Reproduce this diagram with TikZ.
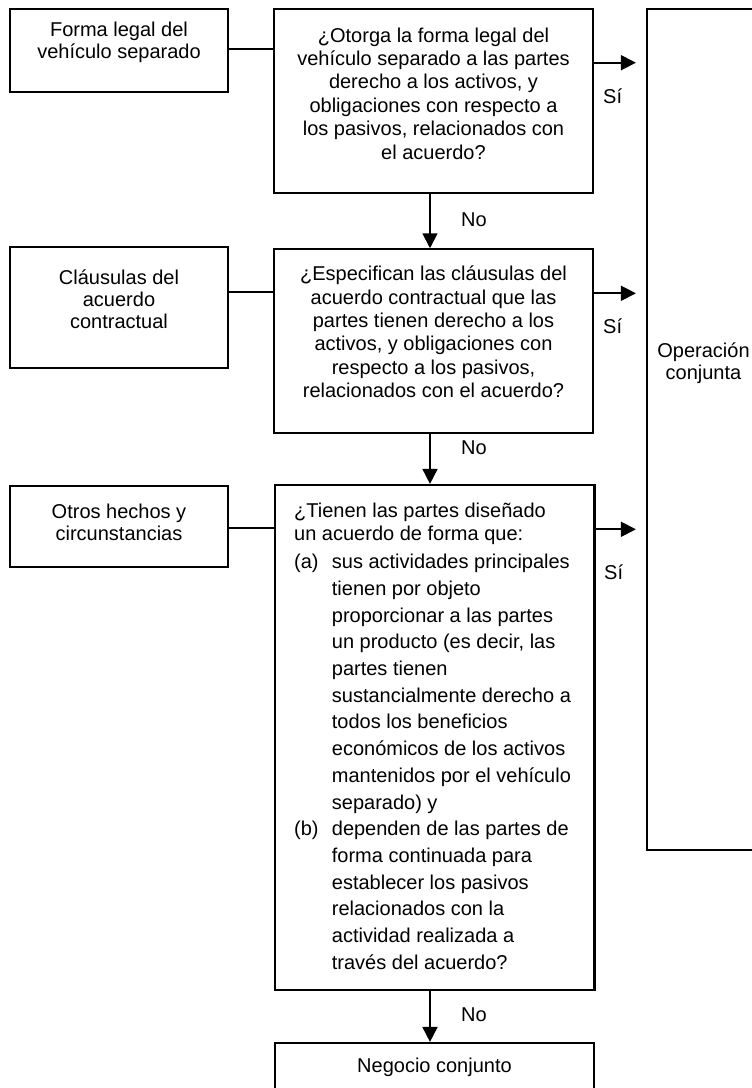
\documentclass[tikz,border=0pt]{standalone}
\usepackage{fontspec}
\setmainfont{Liberation Sans}
\usetikzlibrary{arrows.meta}
\begin{document}
\begin{tikzpicture}[x=1pt,y=-1pt,
  box/.style={draw, line width=2.2pt, inner sep=0pt, rectangle},
  conn/.style={line width=1.8pt},
  arr/.style={line width=1.8pt, -{Triangle[length=15pt,width=15pt]}},
  txt/.style={inner sep=0pt, font=\fontsize{20}{22}\selectfont, align=center},
  qtxt/.style={inner sep=0pt, font=\fontsize{20}{23.4}\selectfont, align=center},
  ltxt/.style={inner sep=0pt, font=\fontsize{20}{22.6}\selectfont, align=left},
  lbl/.style={inner sep=0pt, font=\fontsize{20}{22}\selectfont}]
\useasboundingbox (0,0) rectangle (752,1088);
\clip (0,0) rectangle (752,1088);

% boxes
\node[box, minimum width=218.3pt, minimum height=83pt] (b1) at (119.2,50.8) {};
\node[box, minimum width=319pt, minimum height=184pt] (q1) at (433.5,101.3) {};
\node[box, minimum width=218.3pt, minimum height=121pt] (b2) at (119.2,307.8) {};
\node[box, minimum width=319pt, minimum height=183.7pt] (q2) at (433.5,341.2) {};
\node[box, minimum width=218.3pt, minimum height=81.3pt] (b3) at (119.2,526.7) {};
\node[box, minimum width=319.5pt, minimum height=505pt] (q3) at (434.8,737.5) {};
\node[box, minimum width=113pt, minimum height=840.7pt] (op) at (703.5,429.7) {};
\node[box, minimum width=319pt, minimum height=49pt] (nj) at (434.5,1067.5) {};

% texts
\node[txt] (t1) at (119,42.5) {Forma legal del\\vehículo separado};
\node[qtxt] (t2) at (433.5,93.5) {¿Otorga la forma legal del\\vehículo separado a las partes\\derecho a los activos, y\\obligaciones con respecto a\\los pasivos, relacionados con\\el acuerdo?};
\node[txt] (t3) at (119,299) {Cláusulas del\\acuerdo\\contractual};
\node[qtxt] (t4) at (433.5,332) {¿Especifican las cláusulas del\\acuerdo contractual que las\\partes tienen derecho a los\\activos, y obligaciones con\\respecto a los pasivos,\\relacionados con el acuerdo?};
\node[txt] (t5) at (119,522) {Otros hechos y\\circunstancias};
\node[ltxt, anchor=north west] (t6) at (294,503) {¿Tienen las partes diseñado\\
un acuerdo de forma que:\\[5.8pt]
\makebox[37.7pt][l]{(a)}sus actividades principales\\[4.1pt]
\hspace*{37.7pt}tienen por objeto\\[4.1pt]
\hspace*{37.7pt}proporcionar a las partes\\[4.1pt]
\hspace*{37.7pt}un producto (es decir, las\\[4.1pt]
\hspace*{37.7pt}partes tienen\\[4.1pt]
\hspace*{37.7pt}sustancialmente derecho a\\[4.1pt]
\hspace*{37.7pt}todos los beneficios\\[4.1pt]
\hspace*{37.7pt}económicos de los activos\\[4.1pt]
\hspace*{37.7pt}mantenidos por el vehículo\\[4.1pt]
\hspace*{37.7pt}separado) y\\[4.1pt]
\makebox[37.7pt][l]{(b)}dependen de las partes de\\[4.1pt]
\hspace*{37.7pt}forma continuada para\\[4.1pt]
\hspace*{37.7pt}establecer los pasivos\\[4.1pt]
\hspace*{37.7pt}relacionados con la\\[4.1pt]
\hspace*{37.7pt}actividad realizada a\\[4.1pt]
\hspace*{37.7pt}través del acuerdo?};
\node[txt] (opt) at (703.5,363) {Operación\\conjunta};
\node[txt] (njt) at (434.5,1067.5) {Negocio conjunto};

% helper coordinates
\coordinate (c1) at (0,49);
\coordinate (c2) at (0,292.3);
\coordinate (c3) at (0,528.3);
\coordinate (s1) at (0,62.7);
\coordinate (s2) at (0,293.3);
\coordinate (s3) at (0,529.3);
\coordinate (d) at (430,0);

% connectors
\draw[conn] (b1.east |- c1) -- (q1.west |- c1);
\draw[conn] (b2.east |- c2) -- (q2.west |- c2);
\draw[conn] (b3.east |- c3) -- (q3.west |- c3);

\draw[arr, shorten >=10pt] (q1.east |- s1) -- (op.west |- s1);
\draw[arr, shorten >=10pt] (q2.east |- s2) -- (op.west |- s2);
\draw[arr, shorten >=10pt] (q3.east |- s3) -- (op.west |- s3);

\draw[arr] (q1.south -| d) -- (q2.north -| d);
\draw[arr] (q2.south -| d) -- (q3.north -| d);
\draw[arr] (q3.south -| d) -- (nj.north -| d);

% labels
\node[lbl, anchor=west] (y1) at (603,96) {Sí};
\node[lbl, anchor=west] (y2) at (603,326) {Sí};
\node[lbl, anchor=west] (y3) at (604,572) {Sí};
\node[lbl] (n1) at (474,220) {No};
\node[lbl] (n2) at (474,448) {No};
\node[lbl] (n3) at (474,1015) {No};
\end{tikzpicture}
\end{document}
